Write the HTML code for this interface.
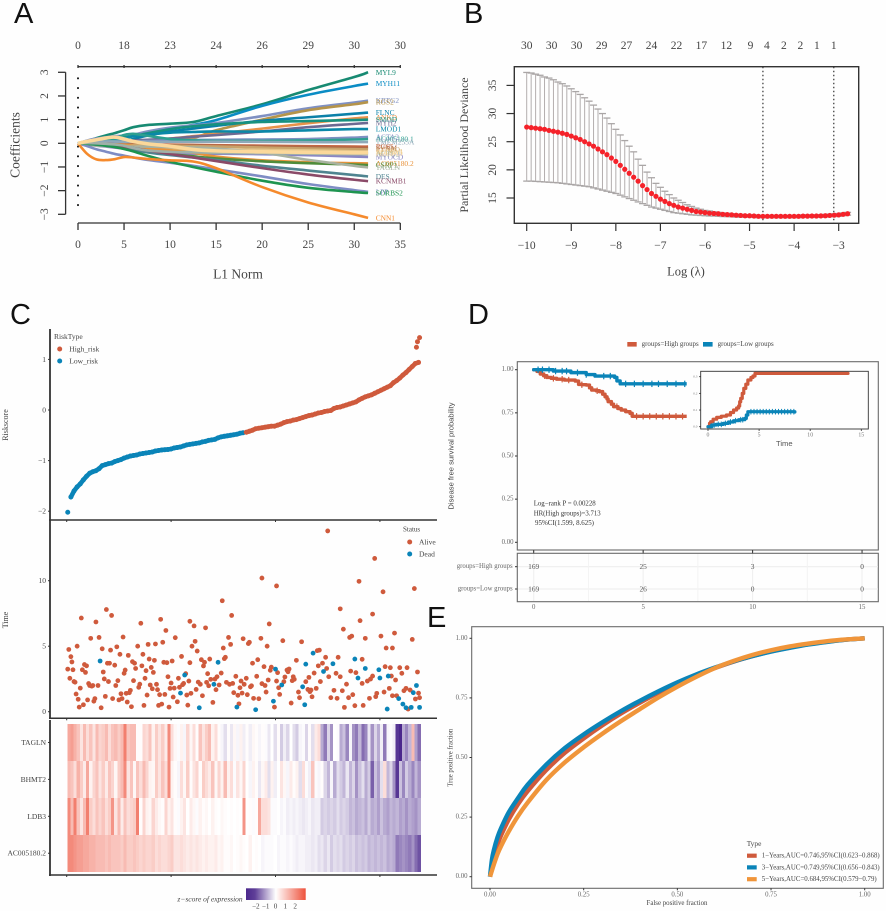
<!DOCTYPE html>
<html lang="en">
<head>
<meta charset="utf-8">
<title>Risk model figure panels A-E</title>
<style>
html,body{margin:0;padding:0;background:#fefefe;}
svg{display:block;filter:blur(.35px);}
text{font-family:"Liberation Serif",serif;fill:#444;}
.sans{font-family:"Liberation Sans",sans-serif;}
.panel-letter{font-family:"Liberation Sans",sans-serif;font-size:29px;fill:#111;}
</style>
</head>
<body>
<svg id="fig" xmlns="http://www.w3.org/2000/svg" width="886" height="911" viewBox="0 0 886 911">
<rect x="0" y="0" width="886" height="911" fill="#fefefe"/>
<g id="pA"></g>
<g id="pB"></g>
<g id="pC"></g>
<g id="pD"></g>
<g id="pE"></g>
<text class="panel-letter" x="14" y="23">A</text>
<text class="panel-letter" x="464" y="23">B</text>
<text class="panel-letter" x="10" y="324">C</text>
<text class="panel-letter" x="468" y="324">D</text>
<text class="panel-letter" x="427" y="627">E</text>
</svg>
<script>
/* ---------- Panel A data ---------- */
const l1Samples = [0,1,2,3,4,5,6,7.5,10,12.5,15,20,25,30,31.5];
const l1Ticks = [0,5,10,15,20,25,30,35];
const l1TopLabels = [0,18,23,24,26,29,30,30];
const coefTicks = [-3,-2,-1,0,1,2,3];
const coefNames = ["MYL9","MYH11","KRTG2","RGS2","FLNC","ANKD","SMOD","MYH2","LMOD1","ACTA2","AC005180.1","TMEM255A","RGS5","SYNM","SYNPO","AC073.3","AC097.5","MYOCD","AC005180.2","CSRP1","TAGLN","DES","KCNMB1","LPP","SORBS2","CNN1","ACTG2","PDLIM3"];
const coefColors = ["#178a72","#0a8cc4","#7f90c2","#b5944a","#0b80a8","#e8924a","#17917f","#6d6a92","#0a88a8","#7f90c2","#2e9f90","#8fa8b8","#c9653f","#b06a48","#c9a36a","#e3c48a","#d8b87a","#8a86c4","#e8923a","#4f8c3a","#a9b2a0","#4f8490","#8a4a68","#7e8cc4","#1e9450","#f58a2c","#9fb0a8","#fbd89a"];
const coefValues = [
 [0,.1,.22,.33,.43,.55,.68,.77,.83,.9,1.15,1.65,2.25,2.8,3.0],
 [0,.05,.1,.15,.2,.28,.32,.45,.6,.78,.98,1.58,2.05,2.42,2.52],
 [0,.12,.2,.25,.3,.32,.36,.5,.66,.76,.85,1.15,1.48,1.72,1.8],
 [0,.01,.02,.03,.02,.01,.02,.08,.16,.22,.55,1.0,1.4,1.65,1.74],
 [0,.03,.06,.08,.08,.1,.18,.32,.5,.62,.74,.95,1.1,1.25,1.3],
 [0,.01,.02,.02,.03,.05,.08,.12,.2,.3,.4,.62,.85,1.05,1.1],
 [0,.05,.1,.15,.2,.25,.3,.42,.6,.72,.8,.9,.94,.98,1.0],
 [0,.02,.03,.05,.06,.08,.12,.15,.2,.28,.35,.5,.68,.82,.86],
 [0,.04,.08,.12,.16,.2,.3,.36,.45,.48,.5,.5,.55,.6,.6],
 [0,.02,.03,.05,.06,.08,.08,.1,.12,.14,.15,.16,.18,.24,.27],
 [0,.03,.06,.1,.2,.35,.4,.32,.18,.12,.1,.1,.12,.16,.18],
 [0,.05,.08,.08,.08,.07,.07,.06,.06,.06,.07,.06,.05,.05,.05],
 [0,-.01,-.02,-.03,-.04,-.05,-.05,-.06,-.06,-.07,-.08,-.1,-.12,-.14,-.14],
 [0,-.01,-.02,-.03,-.04,-.05,-.06,-.08,-.08,-.09,-.1,-.13,-.16,-.19,-.2],
 [0,-.02,-.03,-.04,-.05,-.06,-.08,-.08,-.1,-.12,-.14,-.18,-.22,-.25,-.26],
 [0,-.02,-.04,-.06,-.08,-.1,-.14,-.18,-.2,-.24,-.26,-.28,-.3,-.34,-.34],
 [0,-.02,-.04,-.06,-.08,-.1,-.12,-.16,-.22,-.28,-.32,-.36,-.38,-.4,-.42],
 [0,-.05,-.1,-.14,-.18,-.22,-.26,-.34,-.42,-.44,-.44,-.46,-.5,-.56,-.58],
 [0,-.01,-.02,-.03,-.05,-.08,-.12,-.2,-.3,-.4,-.56,-.72,-.8,-.84,-.85],
 [0,-.03,-.06,-.1,-.15,-.2,-.26,-.35,-.46,-.55,-.64,-.76,-.84,-.9,-.92],
 [0,-.06,-.1,-.12,-.14,-.14,-.14,-.14,-.16,-.18,-.22,-.4,-.7,-.95,-1.02],
 [0,-.03,-.06,-.1,-.15,-.2,-.28,-.38,-.5,-.6,-.7,-.95,-1.15,-1.34,-1.4],
 [0,-.02,-.04,-.06,-.1,-.14,-.2,-.3,-.45,-.6,-.75,-1.05,-1.32,-1.54,-1.6],
 [0,-.12,-.25,-.35,-.45,-.52,-.6,-.7,-.82,-.95,-1.1,-1.4,-1.72,-1.98,-2.05],
 [0,-.02,-.05,-.1,-.16,-.24,-.34,-.52,-.78,-1.0,-1.2,-1.58,-1.88,-2.06,-2.1],
 [0,-.45,-.68,-.71,-.67,-.58,-.6,-.66,-.72,-.77,-1.05,-1.85,-2.5,-3,-3.15],
 [0,.01,.0,-.02,-.05,-.1,-.2,-.3,-.36,-.38,-.4,-.42,-.44,-.46,-.46],
 [0,.08,.15,.22,.26,.18,.08,-.02,-.12,-.26,-.32,-.36,-.38,-.4,-.4]
];

/* ---------- Panel B data ---------- */
const logLambda = [-10,-9.9,-9.8,-9.7,-9.6,-9.5,-9.4,-9.3,-9.2,-9.1,-9,-8.9,-8.8,-8.7,-8.6,-8.5,-8.4,-8.3,-8.2,-8.1,-8,-7.9,-7.8,-7.7,-7.6,-7.5,-7.4,-7.3,-7.2,-7.1,-7,-6.9,-6.8,-6.7,-6.6,-6.5,-6.4,-6.3,-6.2,-6.1,-6,-5.9,-5.8,-5.7,-5.6,-5.5,-5.4,-5.3,-5.2,-5.1,-5,-4.9,-4.8,-4.7,-4.6,-4.5,-4.4,-4.3,-4.2,-4.1,-4,-3.9,-3.8,-3.7,-3.6,-3.5,-3.4,-3.3,-3.2,-3.1,-3,-2.9,-2.8];
const devianceMean = [27.6,27.5,27.4,27.3,27.2,27,26.85,26.7,26.5,26.3,26,25.7,25.4,25,24.6,24.2,23.7,23.2,22.7,22.1,21.5,20.8,20.1,19.4,18.7,18,17.2,16.5,15.8,15.3,14.8,14.4,14,13.7,13.4,13.2,13,12.8,12.6,12.5,12.4,12.3,12.25,12.2,12.1,12.05,12,11.95,11.9,11.85,11.85,11.8,11.75,11.75,11.75,11.75,11.75,11.75,11.75,11.75,11.75,11.75,11.78,11.78,11.8,11.8,11.82,11.85,11.9,11.95,12,12.1,12.2];
const devianceUpper = [37.3,37.2,37,36.8,36.5,36.3,36,35.6,35.3,34.9,34.4,33.9,33.4,32.8,32.2,31.5,30.8,30,29.2,28.2,27.2,26.2,25.2,24.2,23.2,21.9,20.8,19.6,18.6,17.6,16.9,16.2,15.6,15,14.6,14.2,13.8,13.5,13.2,13,12.8,12.7,12.55,12.45,12.35,12.3,12.2,12.15,12.1,12.05,12,12,11.95,11.95,11.95,11.95,11.95,11.95,11.95,11.95,11.95,11.95,12,12,12,12,12.05,12.1,12.15,12.2,12.25,12.35,12.45];
const devianceLower = [18,18,17.95,17.9,17.85,17.8,17.75,17.7,17.6,17.5,17.4,17.3,17.2,17.1,17,16.8,16.6,16.4,16.2,16,15.8,15.5,15.2,14.9,14.6,14.3,14,13.7,13.4,13.2,13,12.8,12.6,12.4,12.3,12.2,12.1,12,11.95,11.9,11.85,11.8,11.8,11.75,11.7,11.7,11.65,11.6,11.6,11.6,11.6,11.55,11.5,11.5,11.5,11.5,11.5,11.5,11.5,11.5,11.5,11.5,11.55,11.55,11.55,11.55,11.6,11.6,11.65,11.7,11.75,11.85,11.95];
const lambdaTicks = [-10,-9,-8,-7,-6,-5,-4,-3];
const devianceTicks = [15,20,25,30,35];
const dfTopPositions = [-10,-9.44,-8.88,-8.32,-7.76,-7.2,-6.64,-6.08,-5.52,-4.98,-4.61,-4.23,-3.86,-3.49,-3.11];
const dfTopLabels = [30,30,30,29,27,24,22,17,12,9,4,2,2,1,1];
const lambdaCutoffs = [-4.7,-3.11];

/* ---------- Panel C data ---------- */
const riskScores = [-2.02,-1.72,-1.6,-1.52,-1.46,-1.38,-1.31,-1.25,-1.22,-1.2,-1.16,-1.1,-1.08,-1.06,-1.05,-1.02,-1,-.98,-.95,-.93,-.91,-.9,-.89,-.87,-.86,-.85,-.84,-.83,-.81,-.8,-.79,-.785,-.78,-.77,-.75,-.74,-.73,-.71,-.69,-.68,-.67,-.66,-.65,-.63,-.62,-.6,-.59,-.58,-.55,-.53,-.52,-.51,-.5,-.49,-.48,-.46,-.45,
-.44,-.42,-.4,-.37,-.36,-.35,-.34,-.33,-.32,-.32,-.3,-.28,-.25,-.23,-.22,-.2,-.19,-.17,-.15,-.13,-.11,-.1,-.08,-.06,-.05,-.03,-.02,-.01,.03,.05,.06,.08,.1,.12,.14,.16,.2,.23,.26,.28,.3,.33,.36,.39,.42,.45,.48,.54,.58,.63,.69,.74,.8,.86,.92,.94];
const riskTailRanks = [335,336,338];
const riskTailScores = [1.24,1.35,1.43];
const highRiskStartRank = 170;
const riskTicks = [-2,-1,0,1];
const rankTicks = [0,100,200,300];
const timeTicks = [0,5,10];
const alivePoints = [[1,3.25],[2,4.75],[3,2.55],[4,4.2],[5,3.8],[6,3.2],[7,2.3],[8,2.25],[9,1.35],[10,5],[11,.95],[12,.35],[13,1.8],[14,7.15],[15,3.2],[16,.53],[17,3.6],[18,3],[19,3.5],[20,.9],[21,2.15],[22,2],[23,5.6],[24,1.95],[25,2],[26,.8],[27,1],[28,6.85],[30,2],[31,5.67],[33,.3],[34,4.8],[35,3.03],[36,2.5],[37,1.17],[38,7.8],[39,3.7],[40,2.3],[41,3.7],[42,4.7],[43,7.35],[44,1],[46,3.55],[47,2],[48,4.95],[49,2.37],[50,.9],[51,4.38],[52,1.37],[53,1],[54,5.7],[55,2.93],[56,3.18],[57,1.4],[58,.74],[59,4.3],[60,1.45],[61,1.63],[62,.38],[63,3.82],[64,2.37],[65,3.7],[66,3.3],[68,5],[69,1.86],[70,2.1],[71,6.75],[72,3.5],[73,4.38],[74,.48],[75,2.55],[76,3.13],[77,1.27],[78,5.14],[79,4.02],[80,2.04],[81,3.38],[82,1.75],[83,3],[84,3.92],[85,5.17],[86,2.09],[87,1.68],[88,.48],[89,1.3],[90,7.05],[91,.58],[92,5.3],[93,3.77],[94,1.32],[95,6.2],[96,3.74],[97,2.67],[98,.35],[99,1.78],[100,2.19],[101,3.87],[102,1.12],[103,1.8],[104,5.65],[106,.76],[107,2.55],[108,1.86],[110,4.22],[111,2.06],[112,2.16],[114,2.9],[115,1.27],[116,.5],[117,2.34],[118,6.9],[118,3.74],[119,1.4],[120,5],[122,6.55],[123,5.37],[124,1.7],[125,4.63],[126,2.26],[128,2.09],[129,3.97],[130,1.22],[131,3.49],[132,3.77],[133,6.4],[134,2.24],[135,2.9],[136,1.98],[137,4.02],[138,2.47],[140,.71],[142,2.49],[143,1.68],[144,2.67],[146,2.04],[148,2.95],[149,8.47],[150,4.86],[151,4.05],[152,4.15],[153,2.24],[155,5.67],[156,2.09],[157,5.14],[158,7.35],[159,2.16],[160,1.45],[162,2.7],[164,1.25],[165,.6],[166,1.83],[167,2.34],[168,1.42],[169,5.57],[170,2.09],[172,2.55],[173,1.3],[174,5.2],[175,5.3],[176,1.9],[177,1.98],[178,3.7],[179,1.02],[182,2.7],[183,3.97],[184,.99],[186,5.6],[187,10.2],[187,2.14],[189,3.44],[190,2],[191,1.5],[192,5],[193,2.42],[194,6.7],[195,3.16],[196,3.4],[199,.35],[201,2.34],[201,9.6],[202,2.98],[203,1.83],[204,1.32],[207,5.42],[208,2.29],[209,2.65],[211,3.18],[212,3.05],[213,3.26],[215,.66],[216,2.37],[217,2.67],[218,2.47],[220,3.92],[222,1.5],[223,1.07],[225,5.34],[229,2.29],[231,1.7],[232,2.62],[233,1.53],[234,1.65],[235,1.14],[237,2.95],[239,1.78],[240,4.66],[242,4.7],[241,3.5],[243,2.3],[245,3.7],[248,4.15],[249,3.3],[250,13.8],[251,2.67],[253,1.07],[256,1.63],[258,2.93],[259,1.02],[260,4.15],[262,2.67],[262,7.85],[264,1.6],[265,6.3],[266,.33],[268,2.1],[270,1.07],[271,5.67],[272,3.1],[273,5.77],[274,1.3],[276,.46],[277,2.98],[280,9.95],[281,6.95],[283,4],[283,2.16],[284,.48],[286,5.6],[288,2.34],[290,1.02],[291,2.49],[293,7.45],[293,2.72],[295,11.7],[296,1.15],[297,1.4],[301,5.77],[303,9.15],[304,1.5],[306,4.86],[305,3.44],[309,1.78],[310,3.36],[311,2.72],[312,4.86],[312,1.22],[314,6],[316,1.22],[315,2.42],[319,3.36],[321,2.93],[323,1.6],[325,1.78],[326,3.36],[327,.2],[329,1.65],[331,5.52],[333,9.4],[334,.97],[336,3.03],[337,1.42],[338,1.07]];
const deadPoints = [[32,3.87],[109,1.42],[113,2.8],[127,.3],[141,2.09],[145,3.77],[163,.35],[181,.15],[198,.8],[200,3.25],[206,2.04],[226,1.9],[228,.53],[229,3.63],[236,4.47],[246,3.07],[255,3.66],[276,4.02],[279,2.57],[286,3.3],[299,3.2],[300,2.57],[307,.2],[308,2.72],[318,1],[322,.58],[325,.3],[330,.33],[332,1.45],[335,2],[338,.33]];
const geneNames = ["TAGLN","BHMT2","LDB3","AC005180.2"];
const zTAGLN = [1.2,1.3,1.1,.9,.5,1,.6,.9,.5,1,.7,.8,1,.6,.9,1,.8,1,1.6,.9,1,1,.1,.1,.7,.6,.9,.3,.8,.5,.8,.4,1.5,.6,.2,-.1,.3,-.2,.7,.2,.6,.1,.9,.5,.8,1,.3,.6,.1,-.2,-.5,.1,-.4,.2,-.2,.3,-.3,.1,-.3,.2,.1,-.2,.1,-.1,-.4,0,-.5,.1,-.7,-.3,-.6,0,-.5,-.7,-.2,-.1,-.6,.1,-.5,.4,.6,-1,-1.4,-.6,-1.2,0,-.1,-1,-.8,-1.3,-.2,-1.2,-1.4,-.9,-1.5,-1.3,-.4,-1.2,-.6,-1,-.3,-1.4,-.2,-.1,-.3,-1.9,-2,-1,-1.3,-.9,1,-1.1,-1.5];
const zBHMT2 = [1,.9,.6,1.1,.8,.4,1.2,.3,.7,.9,.5,.8,.4,.9,.7,.2,.8,1,1.5,.5,.9,.2,.9,.6,1,.7,.3,.2,.8,.5,.9,.6,1.5,.3,.1,-.2,.6,.2,.8,.1,.5,.7,.1,.8,.6,.4,.9,.2,.7,.3,1,.3,.6,-.1,.5,.2,.7,0,-.2,.3,.1,-.4,.2,.4,-.5,.3,-.3,0,.5,.2,-.2,.4,.1,.3,-.5,.6,-.1,-.3,.9,-.1,-.2,.1,-.6,-.9,-.2,-1,-.5,-.7,-.9,-.4,-.9,-.6,-1.2,-.8,-.5,-1,-.7,-1.6,-.8,-1.1,-.5,.6,-.9,-.6,-1.2,-1.9,-.8,-1.3,-.7,-1,-1.3,-.9,-1.2];
const zLDB3 = [1.5,1,1.6,.9,.5,1,1.6,.8,.6,.9,.7,.9,.6,.8,1.4,.5,1,.4,.9,.6,.7,.8,1.6,.1,.7,.3,.2,.7,.4,.2,.1,.7,.3,.5,.1,-.1,.3,.5,0,.4,.2,-.1,.3,.1,.2,0,.3,.1,0,.2,.1,0,.1,0,.1,0,1.4,0,.1,-.1,.1,1.2,.6,.6,.5,-.1,-.1,0,-.2,-.1,-.3,-.2,-.3,-.2,-.3,-.4,-.3,-.2,-.4,-.3,-.3,-.7,-.6,-.7,-.6,-.7,-.5,-.7,-.6,-.7,-.9,-.8,-1,-.9,-.8,-1,-.7,-1,-.9,-1.1,-.8,-1,-1.1,-.9,-1,-.9,-1.1,-1,-1.2,-1,-1.1,-1.2,-1];
const zAC005180 = [1.5,1.5,1.4,1.3,1.3,1.2,1.2,1.1,1.1,1,1,1,.9,1,.9,.9,.9,.8,1,.8,.8,.9,.8,.7,.8,.7,.7,.8,.6,.7,.6,.6,.7,.8,.5,.5,.6,.5,.4,.5,.4,.5,.4,.3,.4,.3,.3,.4,.2,.3,.1,.1,.2,0,.1,.2,.1,0,.3,0,.1,0,-.2,-.1,-.1,-.1,0,-.2,-.1,-.1,-.2,-.1,-.2,-.3,-.2,-.2,-.3,-.3,-.4,-.3,-.5,-.4,-.6,-.4,-.7,-.5,-.6,-.5,-.7,-.6,-.7,-.6,-.8,-.7,-.8,-.7,-.9,-.8,-.9,-.8,-.9,-.8,-1,-.9,-1,-1.4,-1.3,-1.2,-1.3,-1.4,-1.2,-1.5,-1.7];
const zScaleTicks = [-2,-1,0,1,2];

/* ---------- Panel D data ---------- */
const kmHighTimes = [0,.15,.3,.45,.6,.8,1.05,1.4,1.9,2.05,2.2,2.4,2.55,2.65,2.85,3,3.15,3.26,3.35,3.4,3.55,3.65,3.85,4,4.2,4.4,4.5,13.8];
const kmHighSurv = [1,.99,.975,.965,.955,.95,.945,.94,.934,.915,.913,.911,.895,.882,.878,.873,.858,.843,.83,.815,.8,.786,.775,.766,.757,.747,.73,.73];
const kmLowTimes = [0,.9,1.7,2.4,2.8,3.7,3.8,3.95,8.5];
const kmLowSurv = [1,.992,.983,.972,.963,.955,.935,.918,.918];
const censorHigh = [.5,.9,1.3,1.6,2.2,2.9,3.8,4.7,5,5.3,5.6,5.9,6.2,6.5,6.8];
const censorLow = [.2,.4,.7,1,1.3,1.5,2,2.4,3.2,3.5,4.2,4.6,5,5.4,5.7,6.1,6.5,6.9];
const survTicks = [0,.25,.5,.75,1];
const survTickLabels = ["0.00","0.25","0.50","0.75","1.00"];
const kmTimeTicks = [0,5,10,15];
const riskTableHigh = [169,25,3,0];
const riskTableLow = [169,26,0,0];
const insetHighTimes = [0,.15,.26,.5,.85,1.3,1.8,2.2,2.5,2.8,3,3.1,3.2,3.35,3.5,3.7,3.9,4.2,4.4,4.6,13.7];
const insetHighHaz = [0,.02,.03,.045,.056,.063,.07,.085,.1,.112,.124,.15,.17,.2,.23,.255,.28,.295,.304,.32,.32];
const insetLowTimes = [0,.36,.8,1.5,2,2.5,3,3.6,3.75,3.9,8.5];
const insetLowHaz = [0,.01,.014,.02,.028,.036,.042,.05,.07,.09,.088];
const insetCensorLow = [.6,1,1.3,1.7,2.2,2.7,3.2,3.4,4.2,4.5,4.8,5.1,5.4,5.7,6,6.3,6.6,6.9,7.2,7.5,7.8,8.1,8.4];
const insetYTicks = [0,.1,.2,.3];
const insetYLabels = ["0.0","0.1","0.2","0.3"];

/* ---------- Panel E data ---------- */
const fpr = [0,.005,.01,.02,.03,.05,.075,.1,.15,.2,.25,.3,.35,.4,.45,.5,.55,.6,.65,.7,.75,.8,.85,.9,.95,1];
const tprYear1 = [0,.045,.08,.135,.175,.24,.305,.358,.447,.52,.58,.635,.685,.73,.772,.81,.845,.875,.902,.925,.945,.961,.975,.986,.994,1];
const tprYear3 = [0,.07,.11,.165,.205,.27,.33,.385,.47,.54,.597,.648,.695,.738,.778,.815,.848,.877,.903,.925,.944,.96,.974,.985,.994,1];
const tprYear5 = [0,.025,.05,.095,.13,.19,.255,.31,.405,.48,.543,.6,.653,.703,.752,.797,.838,.875,.905,.93,.95,.966,.978,.988,.995,1];
const rocTicks = [0,.25,.5,.75,1];
const rocTickLabels = ["0.00","0.25","0.50","0.75","1.00"];
const rocLegend = ["1\u2212Years,AUC=0.746,95%CI(0.623\u22120.868)","3\u2212Years,AUC=0.749,95%CI(0.656\u22120.843)","5\u2212Years,AUC=0.684,95%CI(0.579\u22120.79)"];

/* ---------- helpers ---------- */
const NS = "http://www.w3.org/2000/svg";
const RED = "#cf5a3c", BLUE = "#0a84b8", ORANGE = "#f0953a";
const fmt = v => String(v).replace("-", "\u2212");
function mk(parent, tag, name, attrs) {
  const el = document.createElementNS(NS, tag);
  
  
  for (const k in attrs) el.setAttribute(k, attrs[k]);
  parent.appendChild(el);
  return el;
}
function line(p, name, x1, y1, x2, y2, stroke, w, extra) {
  return mk(p, "line", name, Object.assign({x1, y1, x2, y2, stroke, "stroke-width": w}, extra || {}));
}
function rect(p, name, x, y, w, h, fill, extra) {
  return mk(p, "rect", name, Object.assign({x, y, width: w, height: h, fill}, extra || {}));
}
function text(p, name, x, y, str, size, opts) {
  opts = opts || {};
  const a = {x, y, "font-size": size, "dominant-baseline": "central", "text-anchor": opts.anchor || "middle"};
  if (opts.fill) a.style = "fill:" + opts.fill;
  if (opts.rotate) a.transform = "rotate(-90 " + x + " " + y + ")";
  if (opts.cls) a["class"] = opts.cls;
  if (opts.style) a["font-style"] = opts.style;
  if (opts.len) { a.textLength = opts.len; a.lengthAdjust = "spacingAndGlyphs"; }
  const el = mk(p, "text", name, a);
  el.textContent = str;
  return el;
}
function poly(p, name, pts, stroke, w, extra) {
  return mk(p, "polyline", name, Object.assign({points: pts.map(q => q[0].toFixed(2) + "," + q[1].toFixed(2)).join(" "), fill: "none", stroke, "stroke-width": w, "stroke-linejoin": "round", "stroke-linecap": "round"}, extra || {}));
}
function smooth(p, name, pts, stroke, w) {
  let d = "M" + pts[0][0].toFixed(2) + " " + pts[0][1].toFixed(2);
  for (let i = 0; i < pts.length - 1; i++) {
    const a = pts[Math.max(0, i - 1)], b = pts[i], c = pts[i + 1], e = pts[Math.min(pts.length - 1, i + 2)];
    d += "C" + (b[0] + (c[0] - a[0]) / 6).toFixed(2) + " " + (b[1] + (c[1] - a[1]) / 6).toFixed(2) + " " +
      (c[0] - (e[0] - b[0]) / 6).toFixed(2) + " " + (c[1] - (e[1] - b[1]) / 6).toFixed(2) + " " +
      c[0].toFixed(2) + " " + c[1].toFixed(2);
  }
  return mk(p, "path", name, {d, fill: "none", stroke, "stroke-width": w, "stroke-linejoin": "round"});
}
function stepPts(ts, vs, fx, fy) {
  const out = [];
  ts.forEach((t, i) => {
    if (i > 0) out.push([fx(t), fy(vs[i - 1])]);
    out.push([fx(t), fy(vs[i])]);
  });
  return out;
}
function stepAt(ts, vs, t) {
  let v = vs[0];
  ts.forEach((tt, i) => { if (tt <= t) v = vs[i]; });
  return v;
}

/* ---------- Panel A ---------- */
(function () {
  const g = document.getElementById("pA");
  const x = v => 78 + v * (400.3 - 78) / 35;
  const y = v => 143.3 - v * 23.67;
  const INK = "#333";
  line(g, "x-axis-line", x(0), 223, x(35), 223, INK, 1.3);
  line(g, "top-axis-line", x(0), 66.7, x(35), 66.7, INK, 1.3);
  l1Ticks.forEach((t, i) => {
    line(g, "x-axis-tick", x(t), 223, x(t), 230, INK, 1.3);
    text(g, "x-tick-label", x(t), 245, t, 11.5);
    line(g, "top-axis-tick", x(t), 65, x(t), 68, INK, 1.3);
    text(g, "top-tick-label", x(t), 46, l1TopLabels[i], 11.5);
  });
  line(g, "y-axis-line", 65.6, y(3), 65.6, y(-3), INK, 1.3);
  coefTicks.forEach(t => {
    line(g, "y-axis-tick", 58, y(t), 65.6, y(t), INK, 1.3);
    text(g, "y-tick-label", 45, y(t), fmt(t), 11.5, {rotate: true});
  });
  text(g, "x-axis-title", 238, 274, "L1 Norm", 13.5);
  text(g, "y-axis-title", 15, 145, "Coefficients", 13.5, {rotate: true});
  line(g, "zero-lambda-dotted-line", x(0), 78.3, x(0), 214, "#111", 2, {"stroke-dasharray": "0.1 9.65", "stroke-linecap": "round"});
  coefValues.forEach((vals, s) => {
    smooth(g, "coefficient-path-" + coefNames[s].toLowerCase(), vals.map((v, i) => [x(l1Samples[i]), y(v)]), coefColors[s], s === 27 ? 3.6 : 2.6);
  });
  coefValues.forEach((vals, s) => {
    text(g, "coefficient-label-" + coefNames[s].toLowerCase(), 375.7, y(vals[vals.length - 1]), coefNames[s], 7.4, {anchor: "start", fill: coefColors[s]});
  });
})();

/* ---------- Panel B ---------- */
(function () {
  const g = document.getElementById("pB");
  const x = v => 526.7 + (v + 10) * 44.57;
  const y = v => 198 - (v - 15) * 5.63;
  const INK = "#333";
  rect(g, "plot-frame", 514.3, 66.7, 344.4, 156.6, "none", {stroke: INK, "stroke-width": 1.4});
  logLambda.forEach((l, i) => {
    line(g, "error-bar", x(l), y(devianceUpper[i]), x(l), y(devianceLower[i]), "#b3aeae", 1);
    line(g, "error-cap-upper", x(l) - 3.5, y(devianceUpper[i]), x(l) + 3.5, y(devianceUpper[i]), "#aaa6a6", 1.3);
    line(g, "error-cap-lower", x(l) - 3.5, y(devianceLower[i]), x(l) + 3.5, y(devianceLower[i]), "#aaa6a6", 1.3);
  });
  lambdaCutoffs.forEach(l => {
    line(g, "lambda-cutoff-line", x(l), 66.7, x(l), 223.3, "#333", 1.2, {"stroke-dasharray": "1.5 2.5"});
  });
  logLambda.forEach((l, i) => {
    mk(g, "circle", "mean-deviance-point", {cx: x(l), cy: y(devianceMean[i]), r: 2.6, fill: "#f5222a"});
  });
  lambdaTicks.forEach(t => {
    line(g, "x-axis-tick", x(t), 223.3, x(t), 231, INK, 1.2);
    text(g, "x-tick-label", x(t), 246, fmt(t), 11.5);
  });
  devianceTicks.forEach(t => {
    line(g, "y-axis-tick", 506.5, y(t), 514.3, y(t), INK, 1.2);
    text(g, "y-tick-label", 493, y(t), t, 11.5, {rotate: true});
  });
  dfTopPositions.forEach((p, i) => text(g, "top-df-label", x(p), 46, dfTopLabels[i], 11.5));
  text(g, "x-axis-title", 686, 271.5, "Log (\u03bb)", 12.5);
  text(g, "y-axis-title", 464, 145, "Partial Likelihood Deviance", 12, {rotate: true});
})();

/* ---------- Panel C ---------- */
(function () {
  const g = document.getElementById("pC");
  const rx = r => 66.7 + r * 1.044;
  const INK = "#333";
  const ry = v => 410 - v * 50.6;
  const ty = v => 711.7 - v * 13.1;

  /* risk score scatter */
  line(g, "risk-y-axis", 50, 329, 50, 520.5, INK, 1.8);
  line(g, "risk-x-axis", 49, 520, 437, 520, INK, 1.5);
  riskTicks.forEach(t => {
    line(g, "risk-y-tick", 48, ry(t), 50, ry(t), INK, 1);
    text(g, "risk-y-tick-label", 46, ry(t), fmt(t), 7.5, {anchor: "end"});
  });
  rankTicks.forEach(t => line(g, "risk-x-tick", rx(t), 520, rx(t), 522, INK, 1));
  const lowPts = [], highPts = [];
  riskScores.forEach((v, i) => {
    const rank = 1 + 3 * i;
    if (i > 0) (rank >= highRiskStartRank ? highPts : lowPts).push([rx(rank), ry(v)]);
  });
  poly(g, "risk-band-low", lowPts, BLUE, 4.6);
  poly(g, "risk-band-high", highPts, RED, 4.6);
  riskScores.forEach((v, i) => {
    const rank = 1 + 3 * i;
    mk(g, "circle", "risk-point", {cx: rx(rank), cy: ry(v), r: 2.5, fill: rank >= highRiskStartRank ? RED : BLUE});
  });
  riskTailScores.forEach((v, i) => {
    mk(g, "circle", "risk-point", {cx: rx(riskTailRanks[i]), cy: ry(v), r: 2.5, fill: RED});
  });
  text(g, "risk-y-axis-title", 5.5, 425, "Riskscore", 8, {rotate: true});
  text(g, "risk-legend-title", 54, 336.7, "RiskType", 7.5, {anchor: "start"});
  mk(g, "circle", "risk-legend-high-dot", {cx: 59.7, cy: 349, r: 2.5, fill: RED});
  text(g, "risk-legend-high", 69.3, 349, "High_risk", 7.5, {anchor: "start"});
  mk(g, "circle", "risk-legend-low-dot", {cx: 59.7, cy: 361, r: 2.5, fill: BLUE});
  text(g, "risk-legend-low", 69.3, 361, "Low_risk", 7.5, {anchor: "start"});

  /* survival time scatter */
  line(g, "time-y-axis", 50, 520, 50, 719, INK, 1.8);
  line(g, "time-x-axis", 49, 718.3, 437, 718.3, INK, 1.5);
  timeTicks.forEach(t => {
    line(g, "time-y-tick", 48, ty(t), 50, ty(t), INK, 1);
    text(g, "time-y-tick-label", 46, ty(t), t, 7.5, {anchor: "end"});
  });
  rankTicks.forEach(t => line(g, "time-x-tick", rx(t), 718.3, rx(t), 720.3, INK, 1));
  alivePoints.forEach(p => {
    mk(g, "circle", "alive-point", {cx: rx(p[0]), cy: ty(p[1]), r: 2.4, fill: RED});
  });
  deadPoints.forEach(p => {
    mk(g, "circle", "dead-point", {cx: rx(p[0]), cy: ty(p[1]), r: 2.4, fill: BLUE});
  });
  text(g, "time-y-axis-title", 5.5, 620, "Time", 8, {rotate: true});
  text(g, "status-legend-title", 403, 529.7, "Status", 7, {anchor: "start"});
  mk(g, "circle", "status-legend-alive-dot", {cx: 409.7, cy: 542, r: 2.5, fill: RED});
  text(g, "status-legend-alive", 419, 542, "Alive", 7.5, {anchor: "start"});
  mk(g, "circle", "status-legend-dead-dot", {cx: 409.7, cy: 554, r: 2.5, fill: BLUE});
  text(g, "status-legend-dead", 419, 554, "Dead", 7.5, {anchor: "start"});

  /* heatmap */
  const lerp = (a, b, t) => Math.round(a + (b - a) * t);
  function zColor(z) {
    const c = Math.pow(Math.min(1, Math.abs(z) / 2), 1.35);
    const end = z < 0 ? [75, 40, 140] : [238, 82, 60];
    return "rgb(" + lerp(255, end[0], c) + "," + lerp(255, end[1], c) + "," + lerp(255, end[2], c) + ")";
  }
  const rows = [zTAGLN, zBHMT2, zLDB3, zAC005180];
  const rowH = (871.7 - 724) / rows.length;
  const colW = (420.7 - 67.3) / zTAGLN.length;
  rows.forEach((vals, r) => {
    vals.forEach((z, c) => {
      rect(g, "heatmap-cell-" + geneNames[r].toLowerCase(), 67.3 + c * colW, 724 + r * rowH, colW + .2, rowH + .1, zColor(z), {"shape-rendering": "crispEdges"});
    });
    text(g, "heatmap-gene-label", 46, 724 + (r + .5) * rowH, geneNames[r], 7.5, {anchor: "end"});
    line(g, "heatmap-gene-tick", 48, 724 + (r + .5) * rowH, 50, 724 + (r + .5) * rowH, INK, 1);
  });
  line(g, "heatmap-y-axis", 50, 720, 50, 876, INK, 1.8);
  line(g, "heatmap-x-axis", 49, 875, 437, 875, INK, 1.5);
  rankTicks.forEach(t => line(g, "heatmap-x-tick", rx(t), 875, rx(t), 877, INK, 1));

  /* colour scale legend */
  const defs = mk(g, "defs", "colorbar-defs", {});
  const lg = mk(defs, "linearGradient", "colorbar-gradient", {id: "zgrad", x1: 0, x2: 1, y1: 0, y2: 0});
  mk(lg, "stop", "colorbar-stop", {offset: "0", "stop-color": "#4b288c"});
  mk(lg, "stop", "colorbar-stop", {offset: "0.15", "stop-color": "#5f3f98"});
  mk(lg, "stop", "colorbar-stop", {offset: "0.5", "stop-color": "#ffffff"});
  mk(lg, "stop", "colorbar-stop", {offset: "1", "stop-color": "#ee523c"});
  rect(g, "colorbar", 246, 888.3, 59.7, 11.7, "url(#zgrad)");
  text(g, "colorbar-title", 242.7, 899, "z\u2212score of expression", 7.5, {anchor: "end", style: "italic"});
  zScaleTicks.forEach(t => {
    text(g, "colorbar-tick-label", 275.5 + t * 9.85, 906.7, fmt(t), 7.2);
  });
})();

/* ---------- Panel D ---------- */
(function () {
  const g = document.getElementById("pD");
  const x = t => 533.7 + t * 21.89;
  const y = s => 542.3 - s * 172.6;
  const FRAME = "#6a6a6a";
  /* legend */
  rect(g, "legend-swatch-high", 627.3, 342, 9.4, 4.6, RED);
  text(g, "legend-label-high", 641.7, 344.3, "groups=High groups", 6.8, {anchor: "start", len: 57});
  rect(g, "legend-swatch-low", 703, 342, 9.6, 4.6, BLUE);
  text(g, "legend-label-low", 717.7, 344.3, "groups=Low groups", 6.8, {anchor: "start", len: 56});
  /* main plot */
  rect(g, "survival-frame", 517.3, 361.7, 361, 188.3, "none", {stroke: FRAME, "stroke-width": 1.1});
  survTicks.forEach((t, i) => {
    line(g, "survival-y-tick", 515, y(t), 517.3, y(t), "#333", 1);
    text(g, "survival-y-tick-label", 513.5, y(t), survTickLabels[i], 6.8, {anchor: "end", fill: "#666"});
  });
  kmTimeTicks.forEach(t => line(g, "survival-x-tick", x(t), 550, x(t), 552, "#333", 1));
  poly(g, "km-curve-high", stepPts(kmHighTimes, kmHighSurv, x, y), RED, 3.4);
  poly(g, "km-curve-low", stepPts(kmLowTimes, kmLowSurv, x, y), BLUE, 3.4);
  censorHigh.forEach(t => {
    const v = stepAt(kmHighTimes, kmHighSurv, t);
    line(g, "km-censor-high", x(t), y(v) - 3.2, x(t), y(v) + 3.2, RED, 1.2);
  });
  censorLow.forEach(t => {
    const v = stepAt(kmLowTimes, kmLowSurv, t);
    line(g, "km-censor-low", x(t), y(v) - 3.2, x(t), y(v) + 3.2, BLUE, 1.2);
  });
  text(g, "survival-y-axis-title", 451, 456, "Disease free survival probability", 7.6, {rotate: true, cls: "sans"});
  text(g, "log-rank-annotation", 533.7, 503.3, "Log\u2212rank P = 0.00228", 7.2, {anchor: "start", len: 62, fill: "#333"});
  text(g, "hazard-ratio-annotation", 533.7, 513.3, "HR(High groups)=3.713", 7.2, {anchor: "start", len: 67, fill: "#333"});
  text(g, "confidence-interval-annotation", 535, 523, "95%CI(1.599, 8.625)", 7.2, {anchor: "start", len: 59, fill: "#333"});

  /* inset */
  rect(g, "inset-background", 686.7, 363, 190.5, 86, "#fefefe");
  const ix = t => 708 + t * 10.22;
  const iy = v => 426.7 - v * 166.7;
  kmTimeTicks.forEach(t => {
    line(g, "inset-x-tick", ix(t), 429, ix(t), 431, "#333", .8);
    text(g, "inset-x-tick-label", ix(t), 435.5, t, 5.8, {fill: "#777"});
  });
  insetYTicks.forEach((t, i) => {
    line(g, "inset-y-tick", 699, iy(t), 700.7, iy(t), "#333", .8);
    text(g, "inset-y-tick-label", 697.5, iy(t), insetYLabels[i], 3.4, {anchor: "end", fill: "#777"});
  });
  poly(g, "inset-curve-high", stepPts(insetHighTimes, insetHighHaz, ix, iy), RED, 3.2);
  poly(g, "inset-curve-low", stepPts(insetLowTimes, insetLowHaz, ix, iy), BLUE, 3.2);
  insetCensorLow.forEach(t => {
    const v = stepAt(insetLowTimes, insetLowHaz, t);
    line(g, "inset-censor-low", ix(t), iy(v) - 2.8, ix(t), iy(v) + 2.8, BLUE, 1);
  });
  rect(g, "inset-frame", 700.7, 371.3, 167.6, 57.7, "none", {stroke: "#333", "stroke-width": .9});
  text(g, "inset-x-axis-title", 784.3, 443.7, "Time", 7.6, {cls: "sans", fill: "#555"});

  /* risk table */
  rect(g, "risk-table-frame", 517.3, 553.3, 361, 48.4, "none", {stroke: FRAME, "stroke-width": 1.1});
  [566.7, 589].forEach(yy => line(g, "risk-table-grid-row", 518, yy, 878, yy, "#ececec", 1));
  kmTimeTicks.forEach(t => line(g, "risk-table-grid-column", x(t), 554, x(t), 601, "#eeeeee", 1));
  [2.5, 7.5, 12.5].forEach(t => line(g, "risk-table-grid-minor", x(t), 554, x(t), 601, "#f3f3f3", 1));
  kmTimeTicks.forEach((t, i) => {
    line(g, "risk-table-top-tick", x(t), 551.5, x(t), 553.3, "#333", 1);
    text(g, "risk-table-high-count", x(t), 566.7, riskTableHigh[i], 7.4, {fill: "#555"});
    text(g, "risk-table-low-count", x(t), 589, riskTableLow[i], 7.4, {fill: "#555"});
    text(g, "risk-table-x-tick-label", x(t), 607.7, t, 6.8, {fill: "#666"});
  });
  line(g, "risk-table-row-tick", 515, 566.7, 517.3, 566.7, "#333", 1);
  line(g, "risk-table-row-tick", 515, 589, 517.3, 589, "#333", 1);
  text(g, "risk-table-high-label", 512.7, 566.7, "groups=High groups", 6.8, {anchor: "end", len: 56, fill: "#666"});
  text(g, "risk-table-low-label", 512.7, 589, "groups=Low groups", 6.8, {anchor: "end", len: 55, fill: "#666"});
})();

/* ---------- Panel E ---------- */
(function () {
  const g = document.getElementById("pE");
  const x = v => 490 + v * 374.7;
  const y = v => 876.7 - v * 238.4;
  rect(g, "roc-frame", 471.7, 626.7, 411.6, 261.6, "none", {stroke: "#6a6a6a", "stroke-width": 1.1});
  rocTicks.forEach((t, i) => {
    line(g, "roc-x-tick", x(t), 888.3, x(t), 890.3, "#333", 1);
    text(g, "roc-x-tick-label", x(t), 895.2, rocTickLabels[i], 6.8, {fill: "#666"});
    line(g, "roc-y-tick", 469.5, y(t), 471.7, y(t), "#333", 1);
    text(g, "roc-y-tick-label", 467.5, y(t), rocTickLabels[i], 6.8, {anchor: "end", fill: "#666"});
  });
  text(g, "roc-x-axis-title", 677, 902.7, "False positive fraction", 7.4, {len: 61});
  text(g, "roc-y-axis-title", 450.7, 757.7, "True positive fraction", 7.2, {rotate: true, len: 58});
  smooth(g, "roc-curve-1-year", fpr.map((f, i) => [x(f), y(tprYear1[i])]), RED, 4.4);
  smooth(g, "roc-curve-3-year", fpr.map((f, i) => [x(f), y(tprYear3[i])]), BLUE, 4.4);
  smooth(g, "roc-curve-5-year", fpr.map((f, i) => [x(f), y(tprYear5[i])]), ORANGE, 4.4);
  text(g, "roc-legend-title", 746.7, 843.3, "Type", 7.4, {anchor: "start"});
  const swatches = [RED, BLUE, ORANGE];
  const rowYs = [855.7, 867.4, 879.2];
  const lens = [118, 118, 115];
  rocLegend.forEach((s, i) => {
    rect(g, "roc-legend-swatch", 747, rowYs[i] - 2.1, 9.7, 4.2, swatches[i]);
    text(g, "roc-legend-label", 761.7, rowYs[i], s, 7.2, {anchor: "start", len: lens[i]});
  });
})();
</script>
</body>
</html>
